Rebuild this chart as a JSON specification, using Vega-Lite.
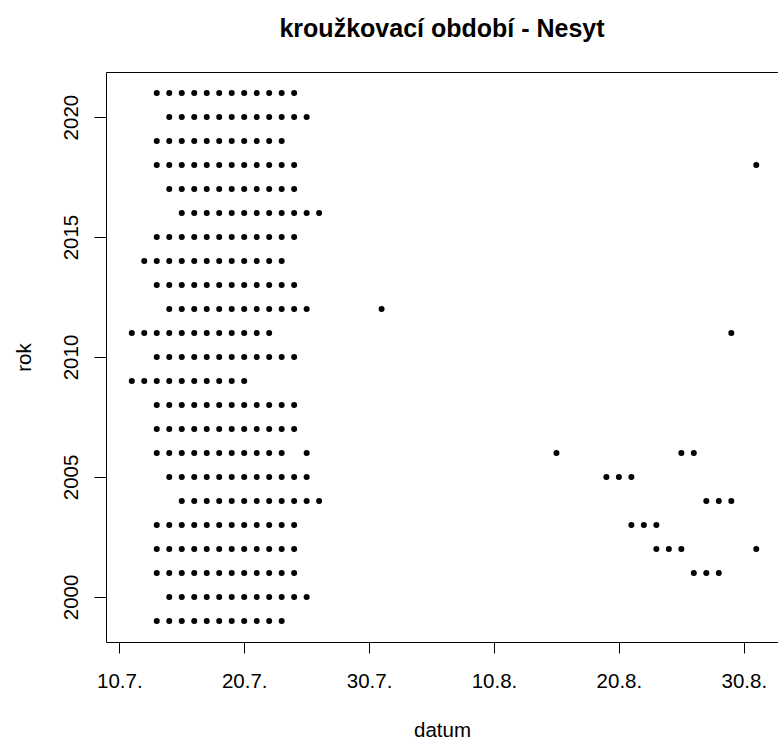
{
  "$schema": "https://vega.github.io/schema/vega-lite/v6.json",
  "autosize": "none",
  "padding": {"left": 106, "top": 72, "right": 0, "bottom": 98},
  "width": 672,
  "height": 570,
  "background": "white",
  "config": {
    "font": "Liberation Sans",
    "view": {"stroke": null},
    "axis": {"grid": false, "domainColor": "black", "domainWidth": 1, "tickColor": "black", "tickWidth": 1, "labelColor": "black", "titleColor": "black", "labelFont": "Liberation Sans", "titleFont": "Liberation Sans", "labelFontSize": 20.5, "titleFontSize": 20.5, "titleFontWeight": "normal"}
  },
  "title": {
    "text": "kroužkovací období - Nesyt",
    "font": "Liberation Sans",
    "fontSize": 25,
    "fontWeight": "bold",
    "color": "black",
    "anchor": "middle",
    "frame": "group",
    "baseline": "alphabetic",
    "offset": 10
  },
  "data": {
    "values": [
      {"rok":1999,"den":13},{"rok":1999,"den":14},{"rok":1999,"den":15},{"rok":1999,"den":16},{"rok":1999,"den":17},{"rok":1999,"den":18},{"rok":1999,"den":19},{"rok":1999,"den":20},{"rok":1999,"den":21},{"rok":1999,"den":22},{"rok":1999,"den":23},
      {"rok":2000,"den":14},{"rok":2000,"den":15},{"rok":2000,"den":16},{"rok":2000,"den":17},{"rok":2000,"den":18},{"rok":2000,"den":19},{"rok":2000,"den":20},{"rok":2000,"den":21},{"rok":2000,"den":22},{"rok":2000,"den":23},{"rok":2000,"den":24},{"rok":2000,"den":25},
      {"rok":2001,"den":13},{"rok":2001,"den":14},{"rok":2001,"den":15},{"rok":2001,"den":16},{"rok":2001,"den":17},{"rok":2001,"den":18},{"rok":2001,"den":19},{"rok":2001,"den":20},{"rok":2001,"den":21},{"rok":2001,"den":22},{"rok":2001,"den":23},{"rok":2001,"den":24},{"rok":2001,"den":56},{"rok":2001,"den":57},{"rok":2001,"den":58},
      {"rok":2002,"den":13},{"rok":2002,"den":14},{"rok":2002,"den":15},{"rok":2002,"den":16},{"rok":2002,"den":17},{"rok":2002,"den":18},{"rok":2002,"den":19},{"rok":2002,"den":20},{"rok":2002,"den":21},{"rok":2002,"den":22},{"rok":2002,"den":23},{"rok":2002,"den":24},{"rok":2002,"den":53},{"rok":2002,"den":54},{"rok":2002,"den":55},{"rok":2002,"den":61},
      {"rok":2003,"den":13},{"rok":2003,"den":14},{"rok":2003,"den":15},{"rok":2003,"den":16},{"rok":2003,"den":17},{"rok":2003,"den":18},{"rok":2003,"den":19},{"rok":2003,"den":20},{"rok":2003,"den":21},{"rok":2003,"den":22},{"rok":2003,"den":23},{"rok":2003,"den":24},{"rok":2003,"den":51},{"rok":2003,"den":52},{"rok":2003,"den":53},
      {"rok":2004,"den":15},{"rok":2004,"den":16},{"rok":2004,"den":17},{"rok":2004,"den":18},{"rok":2004,"den":19},{"rok":2004,"den":20},{"rok":2004,"den":21},{"rok":2004,"den":22},{"rok":2004,"den":23},{"rok":2004,"den":24},{"rok":2004,"den":25},{"rok":2004,"den":26},{"rok":2004,"den":57},{"rok":2004,"den":58},{"rok":2004,"den":59},
      {"rok":2005,"den":14},{"rok":2005,"den":15},{"rok":2005,"den":16},{"rok":2005,"den":17},{"rok":2005,"den":18},{"rok":2005,"den":19},{"rok":2005,"den":20},{"rok":2005,"den":21},{"rok":2005,"den":22},{"rok":2005,"den":23},{"rok":2005,"den":24},{"rok":2005,"den":25},{"rok":2005,"den":49},{"rok":2005,"den":50},{"rok":2005,"den":51},
      {"rok":2006,"den":13},{"rok":2006,"den":14},{"rok":2006,"den":15},{"rok":2006,"den":16},{"rok":2006,"den":17},{"rok":2006,"den":18},{"rok":2006,"den":19},{"rok":2006,"den":20},{"rok":2006,"den":21},{"rok":2006,"den":22},{"rok":2006,"den":23},{"rok":2006,"den":25},{"rok":2006,"den":45},{"rok":2006,"den":55},{"rok":2006,"den":56},
      {"rok":2007,"den":13},{"rok":2007,"den":14},{"rok":2007,"den":15},{"rok":2007,"den":16},{"rok":2007,"den":17},{"rok":2007,"den":18},{"rok":2007,"den":19},{"rok":2007,"den":20},{"rok":2007,"den":21},{"rok":2007,"den":22},{"rok":2007,"den":23},{"rok":2007,"den":24},
      {"rok":2008,"den":13},{"rok":2008,"den":14},{"rok":2008,"den":15},{"rok":2008,"den":16},{"rok":2008,"den":17},{"rok":2008,"den":18},{"rok":2008,"den":19},{"rok":2008,"den":20},{"rok":2008,"den":21},{"rok":2008,"den":22},{"rok":2008,"den":23},{"rok":2008,"den":24},
      {"rok":2009,"den":11},{"rok":2009,"den":12},{"rok":2009,"den":13},{"rok":2009,"den":14},{"rok":2009,"den":15},{"rok":2009,"den":16},{"rok":2009,"den":17},{"rok":2009,"den":18},{"rok":2009,"den":19},{"rok":2009,"den":20},
      {"rok":2010,"den":13},{"rok":2010,"den":14},{"rok":2010,"den":15},{"rok":2010,"den":16},{"rok":2010,"den":17},{"rok":2010,"den":18},{"rok":2010,"den":19},{"rok":2010,"den":20},{"rok":2010,"den":21},{"rok":2010,"den":22},{"rok":2010,"den":23},{"rok":2010,"den":24},
      {"rok":2011,"den":11},{"rok":2011,"den":12},{"rok":2011,"den":13},{"rok":2011,"den":14},{"rok":2011,"den":15},{"rok":2011,"den":16},{"rok":2011,"den":17},{"rok":2011,"den":18},{"rok":2011,"den":19},{"rok":2011,"den":20},{"rok":2011,"den":21},{"rok":2011,"den":22},{"rok":2011,"den":59},
      {"rok":2012,"den":14},{"rok":2012,"den":15},{"rok":2012,"den":16},{"rok":2012,"den":17},{"rok":2012,"den":18},{"rok":2012,"den":19},{"rok":2012,"den":20},{"rok":2012,"den":21},{"rok":2012,"den":22},{"rok":2012,"den":23},{"rok":2012,"den":24},{"rok":2012,"den":25},{"rok":2012,"den":31},
      {"rok":2013,"den":13},{"rok":2013,"den":14},{"rok":2013,"den":15},{"rok":2013,"den":16},{"rok":2013,"den":17},{"rok":2013,"den":18},{"rok":2013,"den":19},{"rok":2013,"den":20},{"rok":2013,"den":21},{"rok":2013,"den":22},{"rok":2013,"den":23},{"rok":2013,"den":24},
      {"rok":2014,"den":12},{"rok":2014,"den":13},{"rok":2014,"den":14},{"rok":2014,"den":15},{"rok":2014,"den":16},{"rok":2014,"den":17},{"rok":2014,"den":18},{"rok":2014,"den":19},{"rok":2014,"den":20},{"rok":2014,"den":21},{"rok":2014,"den":22},{"rok":2014,"den":23},
      {"rok":2015,"den":13},{"rok":2015,"den":14},{"rok":2015,"den":15},{"rok":2015,"den":16},{"rok":2015,"den":17},{"rok":2015,"den":18},{"rok":2015,"den":19},{"rok":2015,"den":20},{"rok":2015,"den":21},{"rok":2015,"den":22},{"rok":2015,"den":23},{"rok":2015,"den":24},
      {"rok":2016,"den":15},{"rok":2016,"den":16},{"rok":2016,"den":17},{"rok":2016,"den":18},{"rok":2016,"den":19},{"rok":2016,"den":20},{"rok":2016,"den":21},{"rok":2016,"den":22},{"rok":2016,"den":23},{"rok":2016,"den":24},{"rok":2016,"den":25},{"rok":2016,"den":26},
      {"rok":2017,"den":14},{"rok":2017,"den":15},{"rok":2017,"den":16},{"rok":2017,"den":17},{"rok":2017,"den":18},{"rok":2017,"den":19},{"rok":2017,"den":20},{"rok":2017,"den":21},{"rok":2017,"den":22},{"rok":2017,"den":23},{"rok":2017,"den":24},
      {"rok":2018,"den":13},{"rok":2018,"den":14},{"rok":2018,"den":15},{"rok":2018,"den":16},{"rok":2018,"den":17},{"rok":2018,"den":18},{"rok":2018,"den":19},{"rok":2018,"den":20},{"rok":2018,"den":21},{"rok":2018,"den":22},{"rok":2018,"den":23},{"rok":2018,"den":24},{"rok":2018,"den":61},
      {"rok":2019,"den":13},{"rok":2019,"den":14},{"rok":2019,"den":15},{"rok":2019,"den":16},{"rok":2019,"den":17},{"rok":2019,"den":18},{"rok":2019,"den":19},{"rok":2019,"den":20},{"rok":2019,"den":21},{"rok":2019,"den":22},{"rok":2019,"den":23},
      {"rok":2020,"den":14},{"rok":2020,"den":15},{"rok":2020,"den":16},{"rok":2020,"den":17},{"rok":2020,"den":18},{"rok":2020,"den":19},{"rok":2020,"den":20},{"rok":2020,"den":21},{"rok":2020,"den":22},{"rok":2020,"den":23},{"rok":2020,"den":24},{"rok":2020,"den":25},
      {"rok":2021,"den":13},{"rok":2021,"den":14},{"rok":2021,"den":15},{"rok":2021,"den":16},{"rok":2021,"den":17},{"rok":2021,"den":18},{"rok":2021,"den":19},{"rok":2021,"den":20},{"rok":2021,"den":21},{"rok":2021,"den":22},{"rok":2021,"den":23},{"rok":2021,"den":24}
    ]
  },
  "encoding": {
    "y": {
      "field": "rok",
      "type": "quantitative",
      "scale": {"domain": [1998.12, 2021.88], "nice": false, "zero": false},
      "axis": {
        "orient": "left",
        "values": [2000, 2005, 2010, 2015, 2020],
        "format": "d",
        "domain": true,
        "tickSize": 12,
        "labelAngle": 270,
        "labelAlign": "center",
        "labelBaseline": "alphabetic",
        "labelPadding": 17,
        "title": "rok",
        "titleAngle": 270,
        "titleAlign": "center",
        "titleBaseline": "alphabetic",
        "titleX": -76,
        "titleY": 285
      }
    }
  },
  "layer": [
    {
      "mark": {"type": "point", "filled": true, "shape": "circle", "size": 36, "color": "black", "opacity": 1},
      "encoding": {
        "x": {
          "field": "den",
          "type": "quantitative",
          "scale": {"domain": [8.935, 62.74], "nice": false, "zero": false},
          "axis": {
            "orient": "bottom",
            "values": [10, 20, 30, 40, 50, 60],
            "labelExpr": "datum.value == 10 ? '10.7.' : datum.value == 20 ? '20.7.' : datum.value == 30 ? '30.7.' : datum.value == 40 ? '10.8.' : datum.value == 50 ? '20.8.' : '30.8.'",
            "domain": true,
            "tickSize": 11,
            "labelBaseline": "alphabetic",
            "labelPadding": 34,
            "labelFlush": false,
            "labelOverlap": false,
            "title": "datum",
            "titleBaseline": "alphabetic",
            "titleX": 336,
            "titleY": 94
          }
        }
      }
    },
    {
      "mark": {"type": "point", "opacity": 0},
      "encoding": {
        "x": {
          "field": "den",
          "type": "quantitative",
          "axis": {"orient": "top", "domain": true, "ticks": false, "labels": false, "title": null, "grid": false}
        }
      }
    }
  ],
  "resolve": {"axis": {"x": "independent"}}
}
